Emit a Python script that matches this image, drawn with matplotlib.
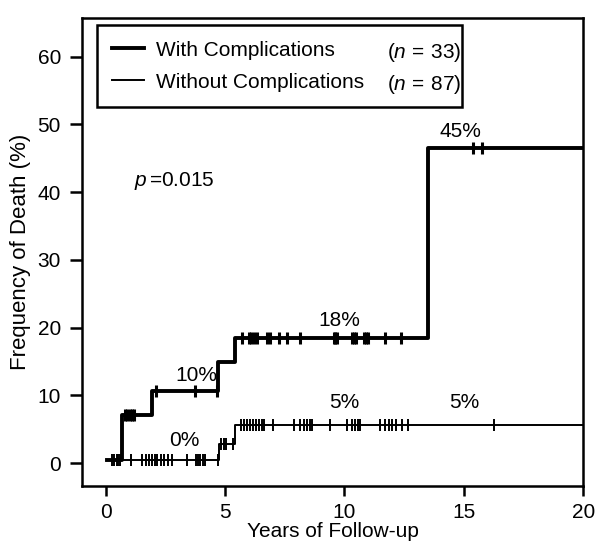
import numpy as np
import matplotlib
matplotlib.use('Agg')
from matplotlib import pyplot as plt

plt.rcParams['font.family'] = ['Liberation Sans', 'DejaVu Sans']
plt.rcParams['mathtext.fontset'] = 'custom'
plt.rcParams['mathtext.rm'] = 'Liberation Sans'
plt.rcParams['mathtext.it'] = 'Liberation Sans:italic'

# step curves (years, % dead)
with_t = [0.05, 0.7, 1.95, 4.7, 5.4, 13.5, 20]
with_y = [0.5, 7.1, 10.6, 14.9, 18.4, 46.5, 46.5]
without_t = [0.05, 4.75, 5.4, 20]
without_y = [0.5, 2.8, 5.6, 5.6]

# censored observations
with_cens = [0.8, 0.9, 1.0, 1.1, 1.2, 2.1, 3.75, 4.65,
             5.7, 6.0, 6.1, 6.2, 6.35, 6.75, 6.9, 7.25, 7.6, 8.15, 9.55, 9.62, 9.69,
             10.3, 10.4, 10.5, 10.8, 10.9, 10.97, 11.7, 12.35, 15.4, 15.75]
without_cens = [0.28, 0.35, 0.46, 0.51, 0.6, 1.05, 1.53, 1.67, 1.81, 1.95, 2.05, 2.16,
                2.3, 2.44, 2.6, 2.79, 3.42, 3.77, 3.86, 3.97, 4.09, 4.18, 4.7,
                4.85, 4.95, 5.05, 5.35,
                5.65, 5.8, 5.9, 6.05, 6.15, 6.3, 6.4, 6.55, 6.65, 7.0, 7.9, 8.15, 8.3,
                8.45, 8.55, 8.65, 9.4, 10.1, 10.3, 10.45, 10.55, 10.65, 11.5, 11.7,
                11.85, 12.0, 12.15, 12.4, 12.65, 16.25]

# labels on the curves
notes = ['10%', '0%', '18%', '5%', '5%', '45%']
note_x = [3.8, 3.3, 9.8, 10.0, 15.0, 14.85]
note_y = [13.0, 3.3, 21.0, 8.9, 8.9, 49.0]

group_names = ['With Complications', 'Without Complications']
group_n = [33, 87]


def level_at(ts, ys, t):
    i = np.searchsorted(ts, t, side='right') - 1
    return np.array(ys)[i]


fig = plt.figure(figsize=(5.97, 5.45), dpi=100)
ax = fig.add_axes([0.137, 0.108, 0.84, 0.859])

l1, = ax.step(with_t, with_y, where='post', color='black', lw=2.8)
l2, = ax.step(without_t, without_y, where='post', color='black', lw=1.4)
ax.plot(with_cens, level_at(with_t, with_y, with_cens), ls='none',
        marker='|', ms=9, mew=2.2, color='black')
ax.plot(without_cens, level_at(without_t, without_y, without_cens), ls='none',
        marker='|', ms=9, mew=1.4, color='black')

for s, xx, yy in zip(notes, note_x, note_y):
    ax.text(xx, yy, s, ha='center', va='center', fontsize=15)
ax.text(1.2, 41.6, r'$p\,$=0.015', ha='left', va='center', fontsize=15)

ax.set_xlim(-1, 20)
ax.set_ylim(-3.4, 65.7)
ax.set_xticks([0, 5, 10, 15, 20])
ax.set_yticks([0, 10, 20, 30, 40, 50, 60])
ax.tick_params(direction='out', width=1.8, labelsize=15)
ax.tick_params(axis='x', length=7, pad=5)
ax.tick_params(axis='y', length=9, pad=6)
for sp in ax.spines.values():
    sp.set_linewidth(1.8)

ax.set_xlabel('Years of Follow-up', fontsize=15, labelpad=0)
ax.set_ylabel('Frequency of Death (%)', fontsize=16, labelpad=5)

leg = ax.legend([l1, l2], group_names,
                loc='upper left', bbox_to_anchor=(0.03, 0.985, 0.728, 0.0),
                mode='expand', borderaxespad=0, fancybox=False, framealpha=1,
                edgecolor='black', fontsize=15, handlelength=1.5,
                handletextpad=0.6, labelspacing=0.62, borderpad=0.75)
leg.get_frame().set_linewidth(1.8)
for n, yy in zip(group_n, [0.926, 0.857]):
    ax.text(0.609, yy, r'($n\,=\,$%d)' % n, transform=ax.transAxes, fontsize=15,
            va='center', zorder=6)

fig.savefig('out.png', dpi=100)
